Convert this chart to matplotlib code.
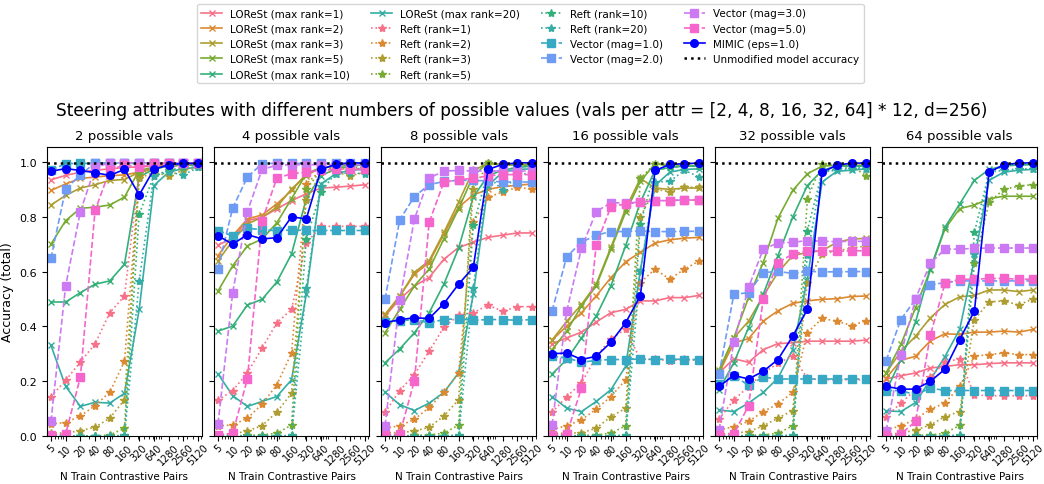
import matplotlib
matplotlib.use("Agg")
import matplotlib.pyplot as plt
import seaborn as sns
import numpy as np

# x values (N train contrastive pairs)
n_pairs = [5, 10, 20, 40, 80, 160, 320, 640, 1280, 2560, 5120]
panel_titles = ["2 possible vals", "4 possible vals", "8 possible vals",
                "16 possible vals", "32 possible vals", "64 possible vals"]
ranks = [1, 2, 3, 5, 10, 20]
mags = [1.0, 2.0, 3.0, 5.0]
unmodified_acc = 0.995

# LOReSt, one list per panel, per rank
lorest = {
    1: [[0.935, 0.951, 0.963, 0.97, 0.975, 0.98, 0.982, 0.985, 0.99, 0.99, 0.99],
        [0.697, 0.721, 0.786, 0.798, 0.829, 0.859, 0.884, 0.905, 0.908, 0.912, 0.917],
        [0.438, 0.499, 0.548, 0.578, 0.645, 0.688, 0.707, 0.725, 0.733, 0.741, 0.741],
        [0.337, 0.358, 0.379, 0.416, 0.45, 0.462, 0.493, 0.493, 0.505, 0.505, 0.513],
        [0.23, 0.282, 0.269, 0.315, 0.337, 0.34, 0.346, 0.346, 0.346, 0.346, 0.35],
        [0.208, 0.22, 0.23, 0.248, 0.254, 0.26, 0.26, 0.264, 0.267, 0.267, 0.267]],
    2: [[0.896, 0.92, 0.94, 0.945, 0.95, 0.953, 0.963, 0.98, 0.985, 0.99, 0.99],
        [0.658, 0.731, 0.792, 0.807, 0.847, 0.896, 0.957, 0.978, 0.985, 0.99, 0.99],
        [0.444, 0.511, 0.59, 0.633, 0.737, 0.835, 0.88, 0.9, 0.91, 0.915, 0.92],
        [0.35, 0.401, 0.45, 0.511, 0.578, 0.636, 0.67, 0.704, 0.716, 0.722, 0.725],
        [0.23, 0.34, 0.355, 0.419, 0.457, 0.484, 0.493, 0.499, 0.501, 0.509, 0.511],
        [0.211, 0.276, 0.291, 0.347, 0.373, 0.371, 0.379, 0.379, 0.383, 0.379, 0.389]],
    3: [[0.843, 0.878, 0.905, 0.917, 0.933, 0.936, 0.963, 0.976, 0.985, 0.99, 0.99],
        [0.639, 0.713, 0.774, 0.798, 0.835, 0.902, 0.95, 0.98, 0.985, 0.99, 0.99],
        [0.44, 0.51, 0.597, 0.64, 0.743, 0.853, 0.97, 0.994, 0.99, 0.99, 0.99],
        [0.35, 0.419, 0.48, 0.554, 0.688, 0.829, 0.94, 0.905, 0.9, 0.905, 0.905],
        [0.242, 0.358, 0.419, 0.511, 0.597, 0.658, 0.67, 0.676, 0.707, 0.719, 0.721],
        [0.23, 0.309, 0.364, 0.431, 0.48, 0.508, 0.513, 0.533, 0.533, 0.527, 0.533]],
    5: [[0.70, 0.786, 0.831, 0.835, 0.843, 0.872, 0.97, 0.98, 0.985, 0.99, 0.99],
        [0.529, 0.621, 0.694, 0.719, 0.778, 0.866, 0.957, 0.98, 0.985, 0.99, 0.99],
        [0.377, 0.462, 0.548, 0.609, 0.719, 0.829, 0.95, 0.997, 0.99, 0.99, 0.99],
        [0.315, 0.383, 0.474, 0.548, 0.682, 0.817, 0.929, 0.994, 0.985, 0.985, 0.985],
        [0.236, 0.358, 0.505, 0.633, 0.795, 0.896, 0.957, 0.985, 0.988, 0.988, 0.988],
        [0.23, 0.334, 0.468, 0.606, 0.756, 0.83, 0.843, 0.866, 0.875, 0.875, 0.875]],
    10: [[0.489, 0.489, 0.523, 0.554, 0.566, 0.627, 0.945, 0.975, 0.985, 0.99, 0.99],
         [0.383, 0.401, 0.478, 0.499, 0.562, 0.664, 0.866, 0.95, 0.975, 0.985, 0.99],
         [0.267, 0.318, 0.377, 0.45, 0.554, 0.685, 0.872, 0.95, 0.97, 0.98, 0.985],
         [0.226, 0.279, 0.358, 0.438, 0.548, 0.694, 0.853, 0.97, 0.98, 0.985, 0.985],
         [0.169, 0.267, 0.395, 0.517, 0.658, 0.798, 0.914, 0.969, 0.985, 0.985, 0.985],
         [0.163, 0.279, 0.416, 0.609, 0.762, 0.847, 0.933, 0.973, 0.985, 0.99, 0.99]],
    20: [[0.331, 0.181, 0.108, 0.123, 0.12, 0.156, 0.462, 0.914, 0.963, 0.976, 0.98],
         [0.227, 0.147, 0.108, 0.126, 0.144, 0.205, 0.517, 0.92, 0.957, 0.97, 0.973],
         [0.16, 0.114, 0.093, 0.12, 0.159, 0.23, 0.517, 0.914, 0.963, 0.973, 0.975],
         [0.144, 0.101, 0.089, 0.126, 0.169, 0.254, 0.603, 0.914, 0.963, 0.973, 0.975],
         [0.095, 0.089, 0.12, 0.159, 0.211, 0.315, 0.572, 0.927, 0.966, 0.97, 0.975],
         [0.092, 0.089, 0.122, 0.205, 0.29, 0.389, 0.645, 0.933, 0.963, 0.97, 0.973]],
}

# Reft, one list per panel, per rank
reft = {
    1: [[0.144, 0.203, 0.27, 0.336, 0.45, 0.511, 0.963, 0.98, 0.99, 0.99, 0.99],
        [0.13, 0.166, 0.23, 0.321, 0.413, 0.462, 0.704, 0.765, 0.765, 0.765, 0.765],
        [0.086, 0.166, 0.224, 0.309, 0.397, 0.44, 0.45, 0.477, 0.456, 0.472, 0.472],
        [0.086, 0.144, 0.193, 0.29, 0.355, 0.39, 0.28, 0.28, 0.275, 0.28, 0.275],
        [0.061, 0.132, 0.18, 0.23, 0.265, 0.293, 0.21, 0.205, 0.205, 0.205, 0.205],
        [0.071, 0.12, 0.169, 0.215, 0.269, 0.282, 0.15, 0.147, 0.147, 0.147, 0.147]],
    2: [[0.044, 0.049, 0.073, 0.111, 0.16, 0.273, 0.95, 0.98, 0.99, 0.99, 0.99],
        [0.037, 0.04, 0.065, 0.116, 0.187, 0.303, 0.92, 0.97, 0.975, 0.975, 0.975],
        [0.028, 0.037, 0.061, 0.104, 0.159, 0.23, 0.78, 0.872, 0.89, 0.908, 0.9],
        [0.024, 0.037, 0.059, 0.098, 0.144, 0.205, 0.56, 0.609, 0.572, 0.609, 0.639],
        [0.022, 0.034, 0.053, 0.089, 0.117, 0.159, 0.377, 0.429, 0.419, 0.403, 0.421],
        [0.022, 0.037, 0.061, 0.098, 0.12, 0.181, 0.291, 0.297, 0.303, 0.297, 0.297]],
    3: [[0.012, 0.01, 0.02, 0.032, 0.065, 0.132, 0.94, 0.963, 0.95, 0.97, 0.98],
        [0.004, 0.007, 0.018, 0.038, 0.087, 0.156, 0.86, 0.963, 0.963, 0.95, 0.963],
        [0.012, 0.012, 0.018, 0.032, 0.073, 0.132, 0.9, 0.995, 0.99, 0.99, 0.99],
        [0.01, 0.01, 0.012, 0.028, 0.071, 0.101, 0.8, 0.9, 0.892, 0.908, 0.908],
        [0.007, 0.01, 0.016, 0.037, 0.065, 0.093, 0.56, 0.664, 0.676, 0.685, 0.694],
        [0.007, 0.01, 0.022, 0.04, 0.071, 0.089, 0.425, 0.489, 0.493, 0.478, 0.501]],
    5: [[0.0, 0.0, 0.0, 0.0, 0.004, 0.028, 0.96, 0.98, 0.985, 0.99, 0.99],
        [0.0, 0.0, 0.002, 0.004, 0.01, 0.04, 0.9, 0.97, 0.98, 0.98, 0.98],
        [0.0, 0.0, 0.002, 0.004, 0.01, 0.04, 0.97, 0.995, 0.99, 0.99, 0.99],
        [0.0, 0.0, 0.002, 0.004, 0.01, 0.037, 0.94, 0.994, 0.99, 0.99, 0.985],
        [0.0, 0.0, 0.002, 0.004, 0.01, 0.037, 0.866, 0.994, 0.99, 0.985, 0.95],
        [0.0, 0.0, 0.002, 0.004, 0.01, 0.039, 0.63, 0.853, 0.9, 0.912, 0.917]],
    10: [[0.0, 0.0, 0.0, 0.0, 0.0, 0.002, 0.81, 0.95, 0.97, 0.98, 0.99],
         [0.0, 0.0, 0.0, 0.0, 0.0, 0.002, 0.72, 0.89, 0.96, 0.97, 0.98],
         [0.0, 0.0, 0.0, 0.0, 0.0, 0.004, 0.77, 0.963, 0.97, 0.98, 0.99],
         [0.0, 0.0, 0.0, 0.0, 0.0, 0.004, 0.774, 0.97, 0.98, 0.985, 0.985],
         [0.0, 0.0, 0.0, 0.0, 0.0, 0.004, 0.749, 0.963, 0.975, 0.98, 0.98],
         [0.0, 0.0, 0.0, 0.0, 0.0, 0.004, 0.743, 0.963, 0.985, 0.99, 0.99]],
    20: [[0.0, 0.0, 0.0, 0.0, 0.0, 0.0, 0.566, 0.95, 0.963, 0.953, 0.98],
         [0.0, 0.0, 0.0, 0.0, 0.0, 0.0, 0.54, 0.914, 0.957, 0.96, 0.957],
         [0.0, 0.0, 0.0, 0.0, 0.0, 0.0, 0.54, 0.95, 0.896, 0.95, 0.963],
         [0.0, 0.0, 0.0, 0.0, 0.0, 0.0, 0.603, 0.927, 0.929, 0.97, 0.945],
         [0.0, 0.0, 0.0, 0.0, 0.0, 0.0, 0.66, 0.963, 0.97, 0.975, 0.975],
         [0.0, 0.0, 0.0, 0.0, 0.0, 0.0, 0.664, 0.963, 0.97, 0.975, 0.975]],
}

# steering vector, one list per panel, per magnitude
vector = {
    1.0: [[0.97, 0.994, 0.995, 0.995, 0.995, 0.995, 0.995, 0.995, 0.995, 0.995, 0.995],
          [0.749, 0.731, 0.758, 0.753, 0.749, 0.752, 0.75, 0.75, 0.75, 0.75, 0.75],
          [0.416, 0.42, 0.425, 0.413, 0.425, 0.428, 0.422, 0.425, 0.425, 0.422, 0.425],
          [0.291, 0.285, 0.269, 0.276, 0.279, 0.279, 0.281, 0.279, 0.281, 0.279, 0.279],
          [0.19, 0.22, 0.185, 0.215, 0.208, 0.208, 0.208, 0.208, 0.208, 0.208, 0.208],
          [0.166, 0.166, 0.15, 0.175, 0.166, 0.166, 0.166, 0.166, 0.166, 0.166, 0.166]],
    2.0: [[0.648, 0.902, 0.953, 0.997, 0.997, 0.997, 0.997, 0.997, 0.997, 0.997, 0.997],
          [0.611, 0.832, 0.945, 0.994, 0.995, 0.995, 0.995, 0.995, 0.995, 0.995, 0.995],
          [0.499, 0.789, 0.874, 0.917, 0.929, 0.933, 0.933, 0.931, 0.927, 0.927, 0.927],
          [0.456, 0.655, 0.707, 0.733, 0.746, 0.746, 0.748, 0.746, 0.746, 0.747, 0.747],
          [0.226, 0.517, 0.523, 0.596, 0.601, 0.593, 0.601, 0.599, 0.599, 0.6, 0.6],
          [0.275, 0.425, 0.499, 0.551, 0.56, 0.566, 0.566, 0.566, 0.566, 0.566, 0.566]],
    3.0: [[0.053, 0.548, 0.819, 0.98, 0.997, 0.997, 0.997, 0.997, 0.997, 0.997, 0.997],
          [0.044, 0.523, 0.819, 0.973, 0.988, 0.99, 0.99, 0.99, 0.99, 0.99, 0.99],
          [0.037, 0.496, 0.792, 0.941, 0.967, 0.969, 0.967, 0.967, 0.967, 0.967, 0.967],
          [0.04, 0.456, 0.685, 0.819, 0.851, 0.851, 0.853, 0.859, 0.859, 0.862, 0.862],
          [0.022, 0.342, 0.542, 0.682, 0.704, 0.707, 0.713, 0.711, 0.709, 0.711, 0.71],
          [0.018, 0.297, 0.501, 0.63, 0.682, 0.682, 0.685, 0.686, 0.686, 0.686, 0.686]],
    5.0: [[0.004, 0.007, 0.215, 0.823, 0.97, 0.99, 0.98, 0.995, 0.995, 0.995, 0.995],
          [0.004, 0.01, 0.208, 0.786, 0.941, 0.957, 0.963, 0.97, 0.973, 0.973, 0.973],
          [0.004, 0.007, 0.202, 0.78, 0.927, 0.935, 0.941, 0.949, 0.954, 0.954, 0.954],
          [0.004, 0.007, 0.175, 0.697, 0.837, 0.847, 0.853, 0.859, 0.859, 0.862, 0.86],
          [0.004, 0.007, 0.11, 0.499, 0.633, 0.664, 0.674, 0.676, 0.674, 0.676, 0.676],
          [0.004, 0.007, 0.053, 0.367, 0.557, 0.572, 0.572, 0.575, 0.575, 0.572, 0.572]],
}

# MIMIC (eps=1.0), one list per panel
mimic = [
    [0.966, 0.976, 0.969, 0.961, 0.951, 0.973, 0.88, 0.973, 0.99, 0.995, 0.995],
    [0.731, 0.70, 0.735, 0.719, 0.724, 0.80, 0.792, 0.973, 0.991, 0.997, 0.996],
    [0.413, 0.425, 0.431, 0.429, 0.483, 0.554, 0.615, 0.973, 0.991, 0.997, 0.997],
    [0.30, 0.303, 0.279, 0.291, 0.342, 0.413, 0.511, 0.969, 0.991, 0.994, 0.996],
    [0.181, 0.221, 0.208, 0.236, 0.279, 0.364, 0.462, 0.963, 0.988, 0.996, 0.996],
    [0.181, 0.171, 0.171, 0.199, 0.244, 0.352, 0.456, 0.963, 0.99, 0.996, 0.997],
]

colors = sns.color_palette("husl", 10)
rank_colors = dict(zip(ranks, colors[:6]))
mag_colors = dict(zip(mags, colors[6:]))

fig = plt.figure(figsize=(10.44, 4.85), dpi=100)
axes = []
for i in range(6):
    left = 0.045 + i * 0.16
    ax = fig.add_axes([left, 0.099, 0.1485, 0.596], sharey=axes[0] if axes else None)
    axes.append(ax)

lw = 1.2
for i, ax in enumerate(axes):
    for r in ranks:
        ax.plot(n_pairs, lorest[r][i], color=rank_colors[r], marker="x", ms=5,
                lw=lw, ls="-", label=f"LOReSt (max rank={r})")
    for r in ranks:
        ax.plot(n_pairs, reft[r][i], color=rank_colors[r], marker="*", ms=6,
                lw=lw, ls=":", label=f"Reft (rank={r})")
    for m in mags:
        ax.plot(n_pairs, vector[m][i], color=mag_colors[m], marker="s", ms=6,
                lw=lw, ls="--", label=f"Vector (mag={m})")
    ax.plot(n_pairs, mimic[i], color="blue", marker="o", ms=5.5, lw=lw,
            label="MIMIC (eps=1.0)")
    ax.axhline(unmodified_acc, color="black", ls=":", lw=1.8,
               label="Unmodified model accuracy")

    ax.set_xscale("log")
    ax.set_xlim(4.15, 6170)
    ax.set_xticks(n_pairs)
    ax.set_xticklabels([str(n) for n in n_pairs], rotation=45, fontsize=7)
    ax.tick_params(axis="x", pad=1)
    ax.set_ylim(0, 1.055)
    ax.set_yticks([0.0, 0.2, 0.4, 0.6, 0.8, 1.0])
    ax.tick_params(axis="y", labelsize=8)
    ax.set_title(panel_titles[i], fontsize=9.5)
    ax.set_xlabel("N Train Contrastive Pairs", fontsize=7.5, labelpad=3)
    if i > 0:
        ax.tick_params(axis="y", labelleft=False)

axes[0].set_ylabel("Accuracy (total)", fontsize=9)

fig.suptitle("Steering attributes with different numbers of possible values "
             "(vals per attr = [2, 4, 8, 16, 32, 64] * 12, d=256)",
             fontsize=12.2, y=0.79)

handles, labels = axes[0].get_legend_handles_labels()
fig.legend(handles, labels, loc="upper center", bbox_to_anchor=(0.508, 1.0),
           ncol=4, fontsize=7.5)

fig.savefig("out.png", dpi=100)
